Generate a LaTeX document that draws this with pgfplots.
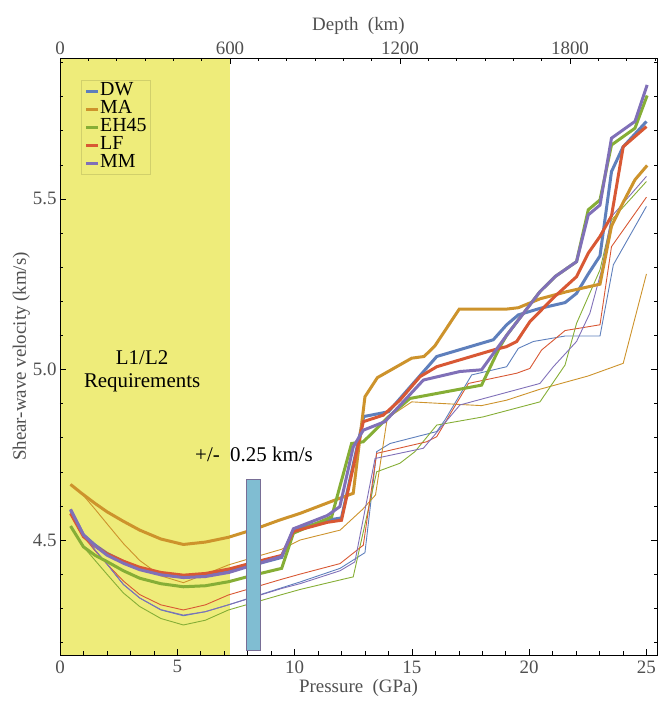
\documentclass[border=0pt]{standalone}
\usepackage{fontspec}
\setmainfont{Liberation Serif}
\usepackage{pgfplots}
\pgfplotsset{compat=1.18}
\definecolor{cDW}{RGB}{94,127,188}
\definecolor{cMA}{RGB}{205,147,44}
\definecolor{cEH}{RGB}{134,174,54}
\definecolor{cLF}{RGB}{216,88,52}
\definecolor{cMM}{RGB}{128,112,184}
\definecolor{yel}{RGB}{238,236,122}
\definecolor{rectfill}{RGB}{128,189,210}
\definecolor{labgray}{RGB}{80,80,80}
\begin{document}
\begin{tikzpicture}
\path[use as bounding box] (-60bp,-51bp) rectangle (598bp,655bp);
\begin{axis}[
  at={(0,0)}, anchor=south west, scale only axis,
  width=597bp, height=597bp,
  xmin=0, xmax=25.45, ymin=4.163, ymax=5.913,
  xtick={0,5,10,15,20,25}, xticklabels={0,5,10,15,20,25},
  minor xtick={1,2,3,4,6,7,8,9,11,12,13,14,16,17,18,19,21,22,23,24,25},
  xtick pos=left,
  ytick={4.5,5.0,5.5}, yticklabels={4.5,5.0,5.5},
  minor ytick={4.2,4.3,4.4,4.6,4.7,4.8,4.9,5.1,5.2,5.3,5.4,5.6,5.7,5.8,5.9},
  ytick pos=both, yticklabel pos=left,
  tick align=inside,
  major tick length=6bp, minor tick length=3.5bp,
  tick style={black, line width=0.5bp},
  /pgf/number format/assume math mode=true,
  tick label style={font=\fontsize{19}{19}\selectfont, text=labgray},
  xticklabel style={yshift=-2bp},
  xlabel={Pressure\ \ (GPa)}, ylabel={Shear-wave velocity (km/s)},
  label style={font=\fontsize{19}{19}\selectfont, text=labgray},
  xlabel style={yshift=1bp},
  ylabel style={yshift=-4bp},
  axis line style={black, line width=0.8bp},
  axis on top,
  clip=true,
  legend style={at={(rel axis cs:0.036,0.963)}, anchor=north west,
    draw=yel!88!black, line width=0.3bp, fill=none, font=\fontsize{20}{18}\selectfont,
    nodes={inner sep=0.5bp, text height=13bp, text depth=4bp},
    row sep=0bp, inner xsep=3bp, inner ysep=2bp},
  legend cell align=left,
  legend image code/.code={\draw[#1] (0bp,0bp) -- (12bp,0bp);},
]
\fill[yel] (axis cs:0,4.163) rectangle (axis cs:7.24,5.913);
% thin lines
\addplot[cDW, line width=0.9bp, forget plot] coordinates {(0.45,4.588)(1.0,4.515)(1.5,4.47)(2.0,4.43)(2.7,4.37)(3.4,4.33)(4.3,4.295)(5.26,4.278)(6.2,4.29)(7.18,4.31)(9.45,4.36)(10.23,4.377)(11.94,4.417)(13.0,4.463)(13.5,4.759)(14.07,4.783)(16.06,4.818)(16.41,4.852)(17.55,4.984)(19.04,5.008)(19.54,5.062)(20.18,5.082)(21.53,5.098)(23.02,5.098)(23.59,5.307)(25.0,5.478)};
\addplot[cMA, line width=0.9bp, forget plot] coordinates {(0.45,4.663)(0.92,4.637)(1.5,4.59)(2.0,4.548)(2.7,4.49)(3.4,4.44)(4.3,4.395)(5.26,4.375)(6.2,4.40)(7.18,4.427)(8.3,4.45)(9.45,4.473)(10.23,4.50)(11.94,4.529)(12.9,4.59)(13.45,4.632)(13.95,4.857)(14.99,4.905)(17.97,4.894)(19.04,4.91)(20.46,4.942)(22.52,4.981)(24.01,5.018)(25.0,5.28)};
\addplot[cEH, line width=0.9bp, forget plot] coordinates {(0.45,4.541)(1.0,4.48)(1.5,4.44)(2.0,4.40)(2.7,4.345)(3.4,4.305)(4.3,4.27)(5.26,4.251)(6.2,4.265)(7.18,4.295)(9.45,4.34)(10.23,4.355)(11.94,4.383)(12.5,4.392)(13.5,4.70)(14.49,4.725)(15.13,4.759)(16.06,4.837)(18.04,4.861)(20.46,4.905)(21.53,5.013)(22.02,5.135)(23.02,5.292)(23.51,5.438)(25.0,5.551)};
\addplot[cLF, line width=0.9bp, forget plot] coordinates {(0.45,4.578)(1.0,4.51)(1.5,4.468)(2.0,4.43)(2.7,4.38)(3.4,4.34)(4.3,4.31)(5.26,4.295)(6.2,4.31)(7.18,4.339)(9.45,4.385)(10.23,4.40)(11.94,4.431)(12.93,4.485)(13.5,4.754)(15.63,4.788)(16.06,4.803)(17.41,4.959)(19.47,4.989)(20.03,5.003)(20.53,5.057)(21.53,5.114)(23.02,5.131)(23.51,5.36)(25.0,5.505)};
\addplot[cMM, line width=0.9bp, forget plot] coordinates {(0.45,4.59)(1.0,4.515)(1.5,4.47)(2.0,4.43)(2.7,4.37)(3.4,4.33)(4.3,4.296)(5.26,4.28)(6.2,4.29)(7.18,4.31)(9.45,4.358)(10.23,4.372)(11.94,4.41)(12.57,4.436)(13.43,4.739)(15.49,4.769)(17.05,4.896)(20.46,4.959)(21.03,5.008)(22.02,5.082)(22.59,5.165)(23.09,5.292)(23.51,5.448)(25.0,5.566)};
% thick lines
\addplot[cDW, line width=3bp] coordinates {(0.45,4.588)(1.0,4.515)(1.5,4.485)(2.0,4.461)(2.7,4.437)(3.4,4.417)(4.3,4.402)(5.26,4.394)(6.2,4.398)(7.2,4.41)(8.3,4.428)(9.45,4.449)(9.95,4.529)(11.4,4.558)(12.0,4.565)(12.95,4.862)(14.0,4.876)(16.06,5.038)(18.47,5.087)(19.04,5.131)(19.54,5.16)(20.46,5.179)(21.53,5.196)(22.02,5.223)(22.52,5.28)(23.02,5.333)(23.51,5.58)(24.0,5.652)(25.0,5.727)};
\addlegendentry{DW}
\addplot[cMA, line width=3bp] coordinates {(0.45,4.663)(0.92,4.637)(1.5,4.607)(2.0,4.583)(2.7,4.555)(3.4,4.529)(4.3,4.503)(5.26,4.487)(6.2,4.494)(7.18,4.508)(8.3,4.532)(9.38,4.559)(10.23,4.578)(11.79,4.619)(12.5,4.637)(13.0,4.92)(13.53,4.976)(14.99,5.033)(15.52,5.038)(15.98,5.069)(17.02,5.177)(19.04,5.177)(19.54,5.181)(20.46,5.207)(21.6,5.228)(23.02,5.25)(23.51,5.42)(24.01,5.49)(24.51,5.556)(25.03,5.598)};
\addlegendentry{MA}
\addplot[cEH, line width=3bp] coordinates {(0.45,4.541)(1.0,4.48)(1.5,4.455)(2.0,4.437)(2.7,4.41)(3.4,4.388)(4.3,4.372)(5.26,4.363)(6.2,4.366)(7.2,4.378)(8.3,4.398)(9.45,4.417)(9.95,4.52)(11.58,4.568)(12.43,4.783)(12.93,4.788)(14.0,4.861)(14.92,4.915)(17.97,4.954)(18.76,5.067)(19.04,5.1)(20.46,5.228)(21.1,5.272)(22.02,5.316)(22.52,5.468)(23.02,5.497)(23.51,5.658)(24.51,5.707)(25.03,5.803)};
\addlegendentry{EH45}
\addplot[cLF, line width=3bp] coordinates {(0.45,4.578)(1.0,4.51)(1.5,4.482)(2.0,4.46)(2.7,4.438)(3.4,4.42)(4.3,4.405)(5.26,4.397)(6.2,4.402)(7.2,4.415)(8.3,4.435)(9.45,4.455)(9.95,4.525)(11.4,4.552)(12.0,4.558)(12.93,4.847)(13.78,4.866)(14.49,4.91)(15.35,4.979)(16.06,5.008)(18.47,5.057)(19.04,5.067)(19.47,5.082)(20.03,5.14)(20.46,5.17)(21.03,5.21)(22.02,5.272)(22.52,5.341)(23.02,5.39)(23.51,5.45)(24.01,5.653)(25.0,5.712)};
\addlegendentry{LF}
\addplot[cMM, line width=3bp] coordinates {(0.45,4.59)(1.0,4.515)(1.5,4.483)(2.0,4.456)(2.7,4.432)(3.4,4.413)(4.3,4.398)(5.26,4.39)(6.2,4.393)(7.2,4.405)(8.3,4.428)(9.45,4.452)(9.95,4.533)(11.4,4.572)(11.93,4.598)(12.5,4.773)(12.93,4.822)(13.85,4.847)(15.49,4.969)(17.05,4.994)(17.97,4.999)(19.04,5.1)(20.46,5.228)(21.1,5.272)(22.02,5.316)(22.52,5.453)(23.02,5.482)(23.51,5.678)(24.51,5.727)(25.03,5.834)};
\addlegendentry{MM}
% error bar rectangle
\filldraw[fill=rectfill, draw={rgb,255:red,120;green,110;blue,150}, line width=0.8bp] (axis cs:7.93,4.177) rectangle (axis cs:8.53,4.677);
\node[font=\fontsize{21}{21}\selectfont] at (axis cs:8.27,4.752) {+/-\ \ 0.25 km/s};
\node[font=\fontsize{21}{21}\selectfont, align=center] at (axis cs:3.5,4.995) {L1/L2\\[2bp]Requirements};
\draw[gray!50, line width=0.6bp] (rel axis cs:1,0) -- (rel axis cs:1,1);
\end{axis}
\begin{axis}[
  at={(0,0)}, anchor=south west, scale only axis,
  width=597bp, height=597bp,
  xmin=0, xmax=2107, ymin=0, ymax=1,
  axis x line*=top, axis y line=none,
  xtick={0,600,1200,1800}, xticklabels={0,600,1200,1800},
  minor xtick={100,200,300,400,500,700,800,900,1000,1100,1300,1400,1500,1600,1700,1900,2000,2100},
  tick align=inside,
  major tick length=6bp, minor tick length=3.5bp,
  tick style={black, line width=0.5bp},
  /pgf/number format/assume math mode=true,
  tick label style={font=\fontsize{19}{19}\selectfont, text=labgray},
  xlabel={Depth\ \ (km)},
  label style={font=\fontsize{19}{19}\selectfont, text=labgray},
  axis line style={black, line width=0.8bp},
]
\end{axis}
\end{tikzpicture}
\end{document}
